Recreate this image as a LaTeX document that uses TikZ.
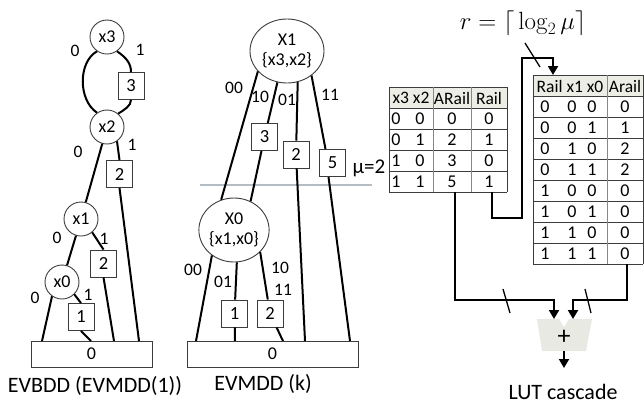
\documentclass[tikz,border=0pt]{standalone}
\usepackage[no-math]{fontspec}
\setmainfont{Carlito}
\usetikzlibrary{arrows.meta,shapes.geometric,calc}
\definecolor{hdr}{RGB}{236,237,229}
\definecolor{olive}{RGB}{125,150,85}
\definecolor{addfill}{RGB}{232,233,227}
\definecolor{muline}{RGB}{180,188,196}
\definecolor{bord}{RGB}{60,60,60}
\begin{document}
\begin{tikzpicture}[x=1pt,y=-1pt,
  vnode/.style={circle,draw=bord,line width=0.9pt,fill=white,minimum size=34pt,inner sep=0pt,font=\fontsize{18}{18}\selectfont},
  enode/.style={ellipse,draw=bord,line width=0.9pt,fill=white,minimum width=74pt,minimum height=64pt,inner sep=0pt,align=center,font=\fontsize{18}{20}\selectfont},
  wbox/.style={rectangle,draw=bord,line width=0.9pt,fill=white,minimum width=26pt,minimum height=27pt,inner sep=0pt,font=\fontsize{18.5}{18.5}\selectfont},
  term/.style={rectangle,draw=bord,line width=0.9pt,fill=white,minimum height=26pt,inner sep=0pt,font=\fontsize{18}{18}\selectfont},
  conn/.style={line width=2pt},
  elab/.style={font=\fontsize{17.5}{17.5}\selectfont,inner sep=0pt},
  captext/.style={font=\fontsize{22}{22}\selectfont,inner sep=0pt},
  tcell/.style={font=\fontsize{18}{18}\selectfont,inner sep=0pt},
  thead/.style={font=\fontsize{17.5}{17.5}\selectfont,inner sep=0pt},
  tline/.style={line width=0.9pt,draw=bord},
  iline/.style={line width=0.9pt,draw=olive},
  wire/.style={line width=2pt},
  arrtip/.style={-{Triangle[width=10pt,length=9pt]}},
  slashmark/.style={line width=1.3pt}
]
\useasboundingbox (0,0) rectangle (644,408);

% ---------------- EVBDD ----------------
\node[vnode] (x3) at (107,37) {x3};
\node[vnode] (x2) at (107,127) {x2};
\node[wbox] (b3) at (131,86) {3};
\node[vnode] (x1) at (81,219) {x1};
\node[wbox] (b2) at (119.5,174) {2};
\node[vnode] (x0) at (62,282) {x0};
\node[wbox] (b2b) at (103.5,263.5) {2};
\node[wbox] (b1) at (81,317) {1};
\node[term,minimum width=121pt] (t0) at (91.5,354) {0};
\coordinate (la) at (42,341);
\coordinate (lb) at (91,341);
\coordinate (lc) at (114,341);
\coordinate (ld) at (139,341);

\draw[conn] (x3.235) .. controls (78,62) and (78,100) .. (x2.125);
\draw[conn] (x3.-55) .. controls (127,58) and (131,64) .. (b3.north);
\draw[conn] (b3.south) .. controls (131,106) and (124,110) .. (x2.50);
\draw[conn] (x2) -- (x1);
\draw[conn] (x2.-55) -- (b2.north);
\draw[conn] (b2.south) -- (ld);
\draw[conn] (x1) -- (x0);
\draw[conn] (x1.-50) -- (b2b.north);
\draw[conn] (b2b.south) -- (lc);
\draw[conn] (x0.235) -- (la);
\draw[conn] (x0.-45) -- (b1.north);
\draw[conn] (b1.south) -- (lb);

\node[elab] (e1) at (75,51) {0};
\node[elab] (e2) at (140,50) {1};
\node[elab] (e3) at (78,152) {0};
\node[elab] (e4) at (132,145) {1};
\node[elab] (e5) at (57,238) {0};
\node[elab] (e6) at (104,239) {1};
\node[elab] (e7) at (35,298) {0};
\node[elab] (e8) at (88,295) {1};
\node[captext] (c1) at (95,386) {EVBDD (EVMDD(1))};

% ---------------- EVMDD(k) ----------------
\draw[line width=1.8pt,muline] (200,185) -- (372,185);
\node[enode] (X1) at (287,51) {X1\\\{x3,x2\}};
\node[enode,minimum width=66pt] (X0) at (234,230) {X0\\\{x1,x0\}};
\node[wbox] (m3) at (264.5,137) {3};
\node[wbox] (m2) at (296,154.5) {2};
\node[wbox] (m5) at (332.5,163) {5};
\node[wbox] (n1) at (234.5,313.5) {1};
\node[wbox] (n2) at (270,313.5) {2};
\node[term,minimum width=171pt] (t1) at (272.5,354) {0};
\coordinate (ma) at (196,341);
\coordinate (mb) at (235,341);
\coordinate (mc) at (283,341);
\coordinate (md) at (305,341);
\coordinate (me) at (350,341);

\draw[conn] (X1.215) -- (X0.113);
\draw[conn] (X1.253) -- (m3) -- (X0.60);
\draw[conn] (X1.289) -- (m2) -- (md);
\draw[conn] (X1.315) -- ([xshift=-7pt]m5.north);
\draw[conn] ([xshift=-4pt]m5.south) -- (me);
\draw[conn] (X0.229) -- (ma);
\draw[conn] (X0.275) -- (n1) -- (mb);
\draw[conn] (X0.-40) -- (n2) -- (mc);

\node[elab] (f1) at (234,88) {00};
\node[elab] (f2) at (260,97) {10};
\node[elab] (f3) at (287,100) {01};
\node[elab] (f4) at (330,95) {11};
\node[elab] (f5) at (193,270) {00};
\node[elab] (f6) at (223,282) {01};
\node[elab] (f7) at (280,268) {10};
\node[elab] (f8) at (283,290) {11};
\node[font=\fontsize{21}{21}\selectfont,inner sep=0pt] (mu) at (369,168) {μ=2};
\node[captext] (c2) at (263,384) {EVMDD (k)};

% ---------------- LUT cascade ----------------
\node[font=\fontsize{23}{23}\selectfont,inner sep=0pt,anchor=base] (form) at (523,29) {$r=\left\lceil\rule[-3pt]{0pt}{23pt}\log_2\mu\right\rceil$};

% table 1
\fill[hdr] (389,87) rectangle (507,108);
\foreach \yy in {87,108,129,150,171,192} \draw[tline] (389,\yy) -- (507,\yy);
\draw[iline] (433,87) -- (433,192);
\draw[iline] (471,87) -- (471,192);
\draw[tline] (389,87) -- (389,192);
\draw[tline] (507,87) -- (507,192);
\node[thead] (h11) at (411,98) {x3 x2};
\node[thead] (h12) at (452,98) {ARail};
\node[thead] (h13) at (489,98) {Rail};
\foreach \a/\b/\c/\d [count=\i] in {0/0/0/0,0/1/2/1,1/0/3/0,1/1/5/1}{
  \node[tcell] (ta\i) at (396,97.5+21*\i) {\a};
  \node[tcell] (tb\i) at (420,97.5+21*\i) {\b};
  \node[tcell] (tc\i) at (452,97.5+21*\i) {\c};
  \node[tcell] (td\i) at (489,97.5+21*\i) {\d};
}

% table 2
\fill[hdr] (533,75) rectangle (643,96);
\foreach \yy in {75,96,117,138,159,180,201,222,243,264} \draw[tline] (533,\yy) -- (643,\yy);
\draw[iline] (607,75) -- (607,264);
\draw[tline] (533,75) -- (533,264);
\draw[tline] (643,75) -- (643,264);
\node[thead] (h21) at (570,86) {Rail x1 x0};
\node[thead] (h22) at (625,86) {Arail};
\foreach \a/\b/\c/\d [count=\i] in {0/0/0/0,0/0/1/1,0/1/0/2,0/1/1/2,1/0/0/0,1/0/1/0,1/1/0/0,1/1/1/0}{
  \node[tcell] (ua\i) at (545,85.5+21*\i) {\a};
  \node[tcell] (ub\i) at (572,85.5+21*\i) {\b};
  \node[tcell] (uc\i) at (592,85.5+21*\i) {\c};
  \node[tcell] (ud\i) at (625,85.5+21*\i) {\d};
}

% adder
\fill[addfill] (537,319) -- (559,319) -- (564,327) -- (569,319) -- (592,319) -- (586,351) -- (542,351) -- cycle;
\node[font=\fontsize{26}{26}\selectfont,inner sep=0pt] (plus) at (564,337) {+};
\coordinate (addA) at (554,319);
\coordinate (addB) at (573,319);
\coordinate (addO) at (564,351);
\coordinate (outO) at (564,368);

% wires
\coordinate (t1rail) at (492,192);
\coordinate (t1arail) at (455,192);
\coordinate (t2arail) at (627,264);
\coordinate (t2in) at (553,75);
\draw[wire,arrtip] (t1rail) |- (522,218) |- (553,58) -- (t2in);
\draw[wire,arrtip] (t1arail) |- (554,300) -- (addA);
\draw[wire,arrtip] (t2arail) |- (573,300) -- (addB);
\draw[wire,arrtip] (addO) -- (outO);
\draw[slashmark] (525,43) -- (540,67);
\draw[slashmark] (503,289) -- (510,313);
\draw[slashmark] (585,289) -- (591,313);
\node[captext] (c3) at (563,392) {LUT cascade};
\end{tikzpicture}
\end{document}
